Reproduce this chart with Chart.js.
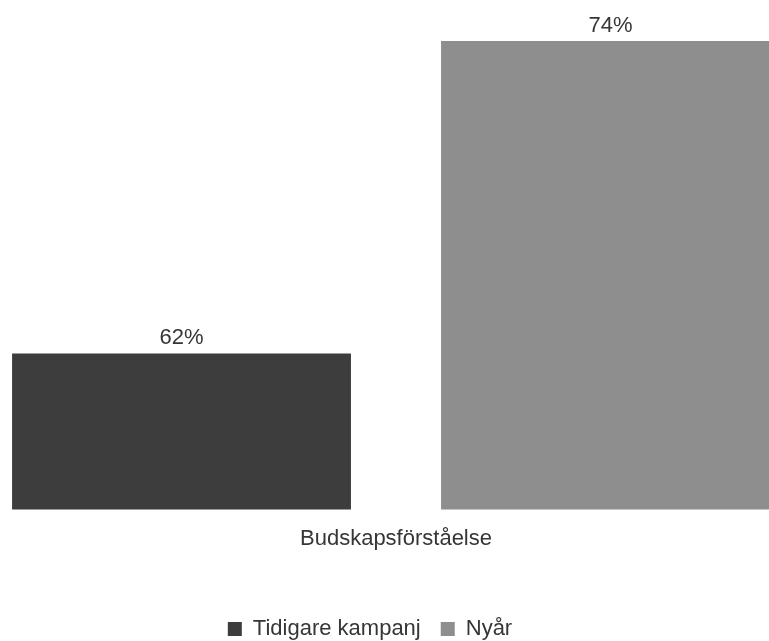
<!DOCTYPE html>
<html>
<head>
<meta charset="utf-8">
<script src="https://cdn.jsdelivr.net/npm/chart.js@4"></script>
<style>
  html, body { margin: 0; padding: 0; background: #fff; overflow: hidden; }
  #wrap { width: 769px; height: 641px; position: relative; }
</style>
</head>
<body>
<div id="wrap"><canvas id="chart"></canvas></div>
<script>
const categories = ['Budskapsförståelse'];
const seriesNames = ['Tidigare kampanj', 'Nyår'];
const tidigareKampanj = [62];
const nyar = [74];
const seriesColors = ['#3d3d3d', '#8e8e8e'];

const textColor = '#363636';
const fontFamily = '"Liberation Sans", Arial, sans-serif';

// value labels above each bar
const barLabels = {
    id: 'barLabels',
    afterDatasetsDraw(chart) {
        const ctx = chart.ctx;
        ctx.save();
        ctx.font = '22px ' + fontFamily;
        ctx.fillStyle = textColor;
        ctx.textAlign = 'center';
        ctx.textBaseline = 'alphabetic';
        chart.data.datasets.forEach((ds, i) => {
            chart.getDatasetMeta(i).data.forEach((bar, j) => {
                ctx.fillText(ds.data[j] + '%', bar.x, bar.y - 9);
            });
        });
        ctx.restore();
    }
};

new Chart(document.getElementById('chart'), {
    type: 'bar',
    data: {
        labels: categories,
        datasets: [
            { label: seriesNames[0], data: tidigareKampanj, backgroundColor: seriesColors[0] },
            { label: seriesNames[1], data: nyar, backgroundColor: seriesColors[1] }
        ]
    },
    options: {
        responsive: true,
        maintainAspectRatio: false,
        animation: false,
        datasets: {
            // bars run wider than the plot area, so only clip left/right loosely
            bar: {
                categoryPercentage: 1.247,
                barPercentage: 0.79,
                clip: { left: 80, right: 80, top: 0, bottom: 0 }
            }
        },
        layout: { padding: { top: 15, right: 29, bottom: -9, left: 0 } },
        scales: {
            x: {
                grid: { display: false, drawTicks: false },
                border: { display: false },
                ticks: { color: textColor, font: { size: 22, family: fontFamily }, padding: 16 },
                afterFit(scale) { scale.height += 30; }
            },
            y: {
                min: 56,
                max: 75,
                grid: { display: false, drawTicks: false },
                border: { display: false },
                ticks: { display: false },
                afterFit(scale) { scale.width = 52; }
            }
        },
        plugins: {
            legend: {
                position: 'bottom',
                labels: {
                    boxWidth: 14,
                    boxHeight: 14,
                    padding: 20,
                    color: textColor,
                    font: { size: 22, family: fontFamily }
                }
            },
            tooltip: { enabled: false }
        }
    },
    plugins: [barLabels]
});
</script>
</body>
</html>
